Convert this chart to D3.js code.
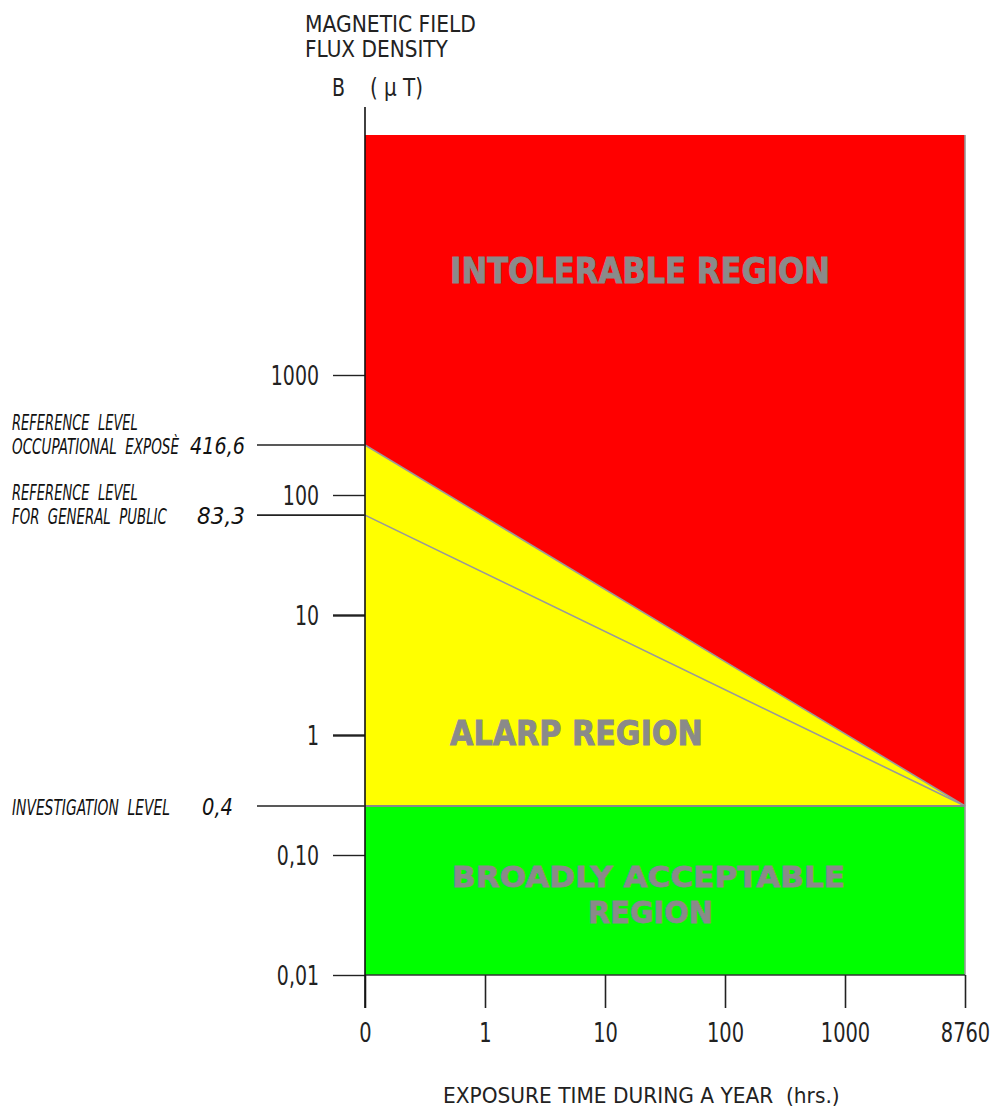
<!DOCTYPE html>
<html><head><meta charset="utf-8">
<script src="https://cdn.jsdelivr.net/npm/d3@7"></script>
<style>
html,body{margin:0;padding:0;background:#fff;}
svg text{white-space:pre;}
</style></head>
<body>
<svg id="chart" width="994" height="1117"></svg>
<script>
// ---------- data ----------
const xLabels = ["0", "1", "10", "100", "1000", "8760"];
const yTickValues = [0.01, 0.1, 1, 10, 100, 1000];
const yTickLabels = ["0,01", "0,10", "1", "10", "100", "1000"];
const yDomain = [0.01, 100000];
// reference levels: value as placed on the drawing, and printed label
const levelNames = [["REFERENCE  LEVEL", "OCCUPATIONAL  EXPOSÈ"], ["REFERENCE  LEVEL", "FOR  GENERAL  PUBLIC"], ["INVESTIGATION  LEVEL"]];
const levelPlotted = [261, 68, 0.256];
const levelLabels = ["416,6", "83,3", "0,4"];
const occupationalLine = [{t: "0", b: 261}, {t: "8760", b: 0.256}];
const publicLine = [{t: "0", b: 68}, {t: "8760", b: 0.256}];
const regionNames = ["INTOLERABLE REGION", "ALARP REGION", "BROADLY ACCEPTABLE", "REGION"];

// ---------- layout ----------
const svg = d3.select("#chart");
const x = d3.scalePoint().domain(xLabels).range([365, 965]);
const y = d3.scaleLog().domain(yDomain).range([975, 135]);
const xFirst = xLabels[0], xLast = xLabels[xLabels.length - 1];
const inv = levelPlotted[2];

// text whose natural width is fitted to w, then stretched vertically to keep the height of o.size
function txt(s, px, py, o) {
  const t = svg.append("text")
    .attr("x", 0).attr("y", 0)
    .attr("font-family", o.family || "DejaVu Sans Condensed")
    .attr("font-size", o.size)
    .attr("font-weight", o.weight || "normal")
    .attr("font-style", o.style || "normal")
    .attr("text-anchor", o.anchor || "start")
    .attr("fill", o.fill || "#222")
    .text(s);
  if (o.stroke) t.attr("stroke", o.fill).attr("stroke-width", o.stroke);
  let sy = 1;
  if (o.w) {
    const L = t.node().getComputedTextLength();
    const ns = o.size * o.w / L;
    t.attr("font-size", ns);
    sy = o.size / ns;
  }
  t.attr("transform", `translate(${px},${py}) scale(1,${sy})`);
  return t;
}

// regions
const area = d3.line().x(d => x(d[0])).y(d => y(d[1]));
svg.append("path").attr("fill", "#ff0000")
  .attr("d", area([[xFirst, yDomain[1]], [xLast, yDomain[1]], [xLast, inv], [xFirst, occupationalLine[0].b]]) + "Z");
svg.append("path").attr("fill", "#ffff00")
  .attr("d", area([[xFirst, occupationalLine[0].b], [xLast, inv], [xFirst, inv]]) + "Z");
svg.append("path").attr("fill", "#00ff00")
  .attr("d", area([[xFirst, inv], [xLast, inv], [xLast, yDomain[0]], [xFirst, yDomain[0]]]) + "Z");

// boundary lines
const ln = d3.line().x(d => x(d.t)).y(d => y(d.b));
svg.append("path").attr("d", ln(occupationalLine)).attr("stroke", "#999").attr("stroke-width", 1.6).attr("fill", "none");
svg.append("path").attr("d", ln(publicLine)).attr("stroke", "#999").attr("stroke-width", 1.6).attr("fill", "none");
svg.append("line").attr("x1", x(xFirst)).attr("x2", x(xLast)).attr("y1", y(inv)).attr("y2", y(inv))
  .attr("stroke", "#888").attr("stroke-width", 2);
svg.append("line").attr("x1", x(xLast)).attr("x2", x(xLast)).attr("y1", y(yDomain[1])).attr("y2", y(yDomain[0]))
  .attr("stroke", "#999").attr("stroke-width", 1.6);
svg.append("line").attr("x1", x(xFirst)).attr("x2", x(xLast)).attr("y1", y(yDomain[0])).attr("y2", y(yDomain[0]))
  .attr("stroke", "#333").attr("stroke-width", 1.6);

// y axis
const yAxis = d3.axisLeft(y).tickValues(yTickValues)
  .tickFormat((d, i) => yTickLabels[i]).tickSize(32).tickSizeOuter(0).tickPadding(0);
const gy = svg.append("g").attr("transform", `translate(${x(xFirst)},0)`).call(yAxis);
gy.select(".domain").remove();
gy.selectAll(".tick line").attr("stroke", "#222")
  .attr("stroke-width", d => (d === 1 || d === 10) ? 2.4 : 1.4);
gy.selectAll(".tick text")
  .attr("font-family", "DejaVu Sans Condensed").attr("font-size", 27).attr("fill", "#222")
  .attr("text-anchor", "end").attr("x", -46 / 0.78).attr("dy", "0.36em")
  .attr("transform", "scale(0.78,1)");

// x axis
const xAxis = d3.axisBottom(x).tickSize(33).tickSizeOuter(0);
const gx = svg.append("g").attr("transform", `translate(0,${y(yDomain[0])})`).call(xAxis);
gx.select(".domain").remove();
gx.selectAll(".tick line").attr("stroke", "#222").attr("stroke-width", 1.6);
gx.selectAll(".tick text")
  .attr("font-family", "DejaVu Sans Condensed").attr("font-size", 27).attr("fill", "#222")
  .attr("y", 67).attr("dy", 0).attr("transform", "scale(0.8,1)")
  .attr("x", 0);

// y axis line
svg.append("line").attr("x1", x(xFirst)).attr("x2", x(xFirst)).attr("y1", 107).attr("y2", 1008)
  .attr("stroke", "#111").attr("stroke-width", 1.6);

// reference level lines + labels
levelPlotted.forEach((v) => {
  svg.append("line").attr("x1", 257).attr("x2", x(xFirst)).attr("y1", y(v)).attr("y2", y(v))
    .attr("stroke", "#222").attr("stroke-width", 1.6);
});
const nameWidths = [[126, 167], [126, 155], [158]];
const valueX = [[190, 55], [197, 48], [202, 31]];
levelPlotted.forEach((v, i) => {
  const yy = y(v);
  const names = levelNames[i];
  const base = yy + 9;
  names.forEach((n, j) => {
    const by = base - (names.length - 1 - j) * 24;
    txt(n, 12, by, {size: 21, style: "italic", w: nameWidths[i][j], fill: "#111"});
  });
  txt(levelLabels[i], valueX[i][0], base, {size: 23, style: "italic", w: valueX[i][1], fill: "#111", family: "DejaVu Sans"});
});

// titles
txt("MAGNETIC FIELD", 305, 32, {size: 23, w: 171});
txt("FLUX DENSITY", 305, 57, {size: 23, w: 143});
txt("B", 332, 96, {size: 24, w: 13});
txt("( µ T)", 370, 96, {size: 24, w: 53});
txt("EXPOSURE TIME DURING A YEAR  (hrs.)", 443, 1103, {size: 22, w: 397});

// region labels
const rs = {family: "DejaVu Sans", weight: "bold", fill: "#8a8a8a", stroke: 0.8};
txt(regionNames[0], 450, 283, Object.assign({size: 36, w: 380}, rs));
txt(regionNames[1], 450, 745, Object.assign({size: 33, w: 253}, rs));
function boxText(s, px, py, size, w) {
  svg.append("text").attr("x", px).attr("y", py)
    .attr("font-family", "DejaVu Sans").attr("font-weight", "bold").attr("font-size", size)
    .attr("fill", "#8a8a8a").attr("stroke", "#8a8a8a").attr("stroke-width", 0.8)
    .attr("textLength", w).attr("lengthAdjust", "spacingAndGlyphs").text(s);
}
boxText(regionNames[2], 452, 887, 29, 393);
boxText(regionNames[3], 588, 923, 30, 125);
</script>
</body></html>
